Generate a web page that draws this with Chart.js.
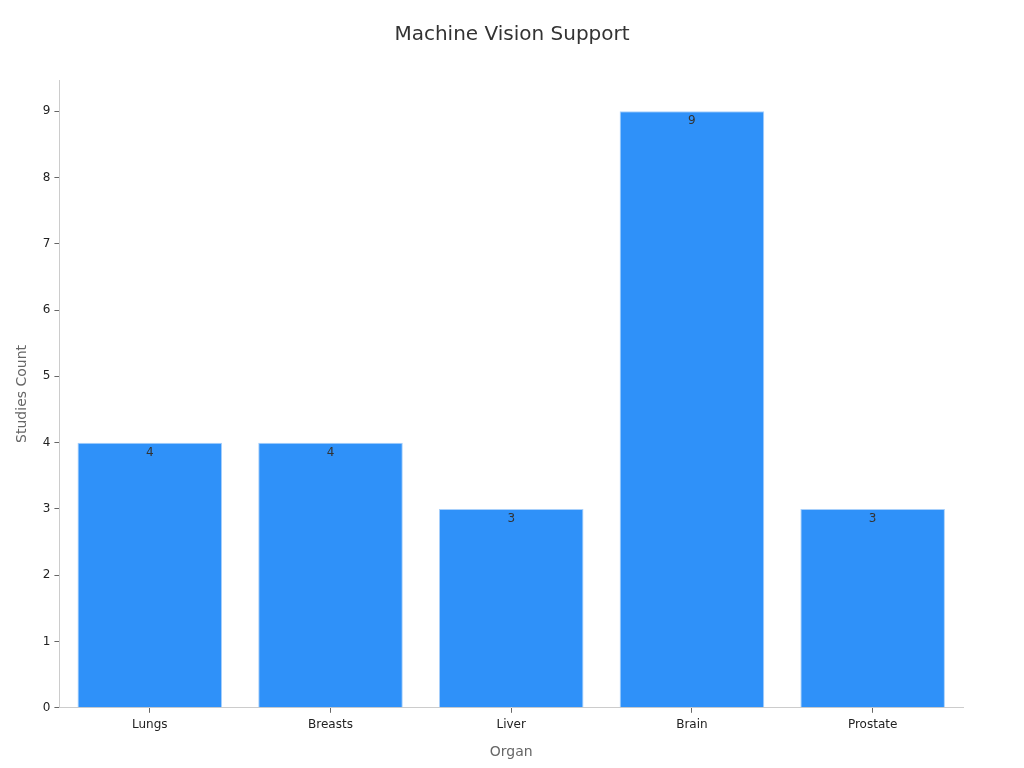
<!DOCTYPE html>
<html lang="en">

<head>
    <meta charset="UTF-8">
    <title>Machine Vision Support</title>
    <script src="https://cdn.jsdelivr.net/npm/chart.js"></script>
    <style>
        body { margin: 0; background: #fff; }
        #wrap { width: 1024px; height: 768px; }
    </style>
</head>

<body>
    <div id="wrap">
        <canvas id="myChart"></canvas>
    </div>
    <script>
        // dados do grafico
        var chartTitle = 'Machine Vision Support';
        var organs = ['Lungs', 'Breasts', 'Liver', 'Brain', 'Prostate'];
        var studies = [4, 4, 3, 9, 3];
        var yTicks = [0, 1, 2, 3, 4, 5, 6, 7, 8, 9];

        // escreve o valor dentro do topo da barra + titulo centrado na pagina
        const barLabels = {
            id: 'barLabels',
            afterDatasetsDraw(chart) {
                const ctx = chart.ctx;
                const meta = chart.getDatasetMeta(0);
                ctx.save();
                ctx.font = '12px "DejaVu Sans"';
                ctx.fillStyle = '#333';
                ctx.textAlign = 'center';
                ctx.textBaseline = 'middle';
                meta.data.forEach((bar, i) => {
                    ctx.fillText(studies[i], bar.x, bar.y + 10);
                });

                ctx.font = '20px "DejaVu Sans"';
                ctx.fillText(chartTitle, chart.width / 2, 35);
                ctx.restore();
            }
        };

        const data = {
            labels: organs,
            datasets: [{
                label: 'Studies Count',
                backgroundColor: '#2f91f9',
                borderColor: '#a8d0fb',
                borderWidth: 1,
                barPercentage: 0.8,
                categoryPercentage: 1.0,
                data: studies,
            }]
        };

        const config = {
            type: 'bar',
            data: data,
            plugins: [barLabels],
            options: {
                responsive: true,
                maintainAspectRatio: false,
                animation: false,
                layout: {
                    padding: { left: 10, right: 61, top: 80, bottom: 4 }
                },
                plugins: {
                    legend: { display: false },
                    tooltip: { enabled: false },
                    title: { display: false }
                },
                scales: {
                    x: {
                        grid: {
                            display: true,
                            offset: false,
                            drawOnChartArea: false,
                            drawTicks: true,
                            tickLength: 5,
                            color: '#666'
                        },
                        border: { display: true, color: '#ccc' },
                        ticks: {
                            color: '#222',
                            font: { family: 'DejaVu Sans', size: 12 },
                            padding: 5
                        },
                        title: {
                            display: true,
                            text: 'Organ',
                            color: '#666',
                            font: { family: 'DejaVu Sans', size: 14 },
                            padding: { top: 7, bottom: 3 }
                        }
                    },
                    y: {
                        min: 0,
                        max: 9.47,
                        afterBuildTicks: function (scale) {
                            scale.ticks = yTicks.map(v => ({ value: v }));
                        },
                        grid: {
                            display: true,
                            drawOnChartArea: false,
                            drawTicks: true,
                            tickLength: 5,
                            color: '#666'
                        },
                        border: { display: true, color: '#ccc' },
                        ticks: {
                            color: '#222',
                            font: { family: 'DejaVu Sans', size: 12 },
                            padding: 4
                        },
                        title: {
                            display: true,
                            text: 'Studies Count',
                            color: '#666',
                            font: { family: 'DejaVu Sans', size: 14 },
                            padding: { bottom: 8 }
                        }
                    }
                }
            }
        };

        new Chart(document.getElementById('myChart'), config);
    </script>
</body>

</html>
